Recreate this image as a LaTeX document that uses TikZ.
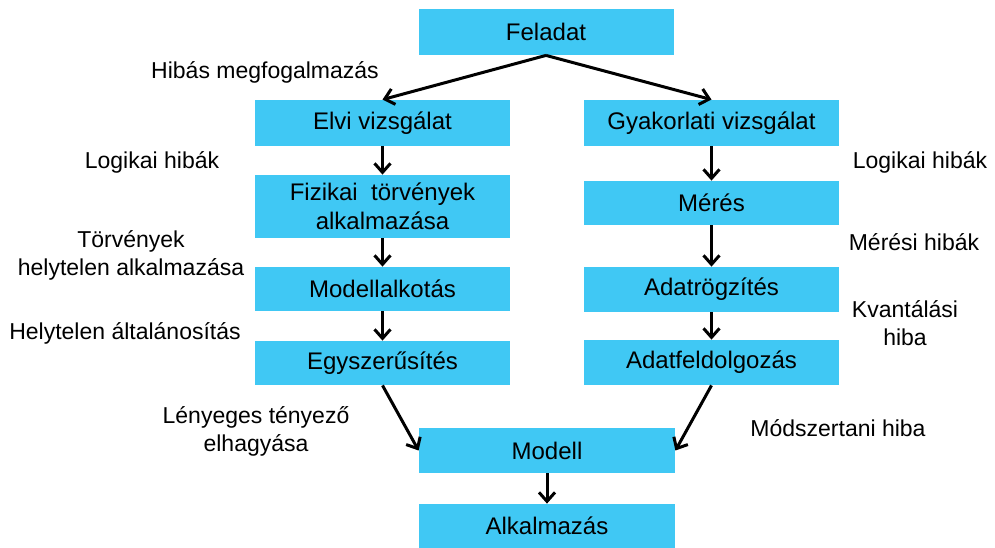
\documentclass[tikz,border=0pt]{standalone}
\usepackage{fontspec}
\setmainfont{Liberation Sans}
\usetikzlibrary{arrows.meta}
\definecolor{boxblue}{RGB}{64,200,244}

\begin{document}
\begin{tikzpicture}[x=0.5pt, y=-0.5pt,
        stepbox/.style={fill=boxblue, inner sep=0pt, minimum width=127.5pt, minimum height=#1,
            align=center, font=\fontsize{12pt}{14.5pt}\selectfont},
        stepbox/.default=23pt,
        errlabel/.style={align=center, inner sep=0pt, font=\fontsize{11.5pt}{14pt}\selectfont},
        flow/.style={-{Straight Barb[length=4.5pt, width=8pt]}, line width=1.5pt}]
        \useasboundingbox (0, 0) rectangle (995, 547);
        % Boxes
        \node [stepbox] (feladat) at (546, 32) {Feladat};
        \node [stepbox] (elvi) at (382.5, 123) {Elvi vizsgálat};
        \node [stepbox=31.5pt] (fizikai) at (382.5, 206.5) {Fizikai\ \ törvények\\alkalmazása};
        \node [stepbox=22pt] (modellalk) at (382.5, 289) {Modellalkotás};
        \node [stepbox=22pt] (egysz) at (382.5, 363) {Egyszerűsítés};
        \node [stepbox] (gyak) at (711.5, 123) {Gyakorlati vizsgálat};
        \node [stepbox=22pt] (meres) at (711.5, 203) {Mérés};
        \node [stepbox=22.5pt] (adatrogz) at (711.5, 289.5) {Adatrögzítés};
        \node [stepbox=22.5pt] (adatfeld) at (711.5, 362.5) {Adatfeldolgozás};
        \node [stepbox=22.5pt, minimum width=128pt] (modell) at (547, 450.5) {Modell};
        \node [stepbox=22pt, minimum width=128pt] (alkalm) at (547, 526) {Alkalmazás};
        % Error labels
        \node [errlabel] (l1) at (265, 72) {Hibás megfogalmazás};
        \node [errlabel] (l2) at (152, 162) {Logikai hibák};
        \node [errlabel] (l3) at (131, 255) {Törvények\\helytelen alkalmazása};
        \node [errlabel] (l4) at (125, 333) {Helytelen általánosítás};
        \node [errlabel] (l5) at (256, 431) {Lényeges tényező\\elhagyása};
        \node [errlabel] (r1) at (920, 162) {Logikai hibák};
        \node [errlabel] (r2) at (914, 242) {Mérési hibák};
        \node [errlabel] (r3) at (905, 323) {Kvantálási\\hiba};
        \node [errlabel] (r4) at (838, 428) {Módszertani hiba};
        % Arrows
        \draw [flow] (feladat.south) -- (elvi.north);
        \draw [flow] (feladat.south) -- (gyak.north);
        \draw [flow] (elvi) -- (fizikai);
        \draw [flow] (fizikai) -- (modellalk);
        \draw [flow] (modellalk) -- (egysz);
        \draw [flow] (gyak) -- (meres);
        \draw [flow] (meres) -- (adatrogz);
        \draw [flow] (adatrogz) -- (adatfeld);
        \draw [flow] (egysz.south) -- (modell.west);
        \draw [flow] (adatfeld.south) -- (modell.east);
        \draw [flow] (modell) -- (alkalm);
    \end{tikzpicture}
\end{document}
